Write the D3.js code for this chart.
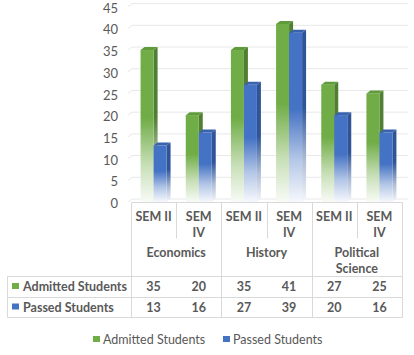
<!DOCTYPE html>
<html><head><meta charset="utf-8">
<script src="https://cdn.jsdelivr.net/npm/d3@7"></script>
<style>
html,body{margin:0;padding:0;background:#fff;}
svg{display:block;font-family:Lato,"Open Sans",sans-serif;}
</style></head>
<body><svg id="c" width="414" height="355"></svg>
<script>
// ---- data ----
const semesters = [["SEM II"],["SEM","IV"],["SEM II"],["SEM","IV"],["SEM II"],["SEM","IV"]];
const subjects = [["Economics"],["History"],["Political","Science"]];
const seriesNames = ["Admitted Students","Passed Students"];
const admitted = [35,20,35,41,27,25];
const passed = [13,16,27,39,20,16];
const yTicks = [0,5,10,15,20,25,30,35,40,45];
const colors = ["#70AD47","#4472C4"];
const sideColors = ["#507E32","#2F5597"];
const topColors = ["#5F9A3B","#3A63AE"];

const svg = d3.select("#c");
const textColor = "#595959", lineColor = "#D9D9D9";
const x0 = 131, x1 = 402, depthX = 4, depthY = 3;
const xCol = d3.scaleBand().domain(d3.range(6)).range([x0, x1]).padding(0);
const xSer = d3.scaleBand().domain([0,1]).range([0, 26]);
const y = d3.scaleLinear().domain([0,45]).range([202, 6.6]);

// gradients
const defs = svg.append("defs");
function grad(id, c){
  const g = defs.append("linearGradient").attr("id", id).attr("x1",0).attr("y1",0).attr("x2",0).attr("y2",1);
  g.append("stop").attr("offset",0).attr("stop-color",c);
  g.append("stop").attr("offset",0.45).attr("stop-color",c);
  g.append("stop").attr("offset",0.75).attr("stop-color",d3.interpolateRgb(c,"#fff")(0.6));
  g.append("stop").attr("offset",1).attr("stop-color",d3.interpolateRgb(c,"#fff")(0.95));
}
[0,1].forEach(i=>{grad("f"+i, colors[i]); grad("s"+i, sideColors[i]);});

// gridlines (back wall)
svg.append("g").selectAll("path").data(yTicks).join("path")
  .attr("d", v => `M${x0-3},${y(v)} L${x0+depthX-3},${y(v)-depthY} L${x1+6},${y(v)-depthY}`)
  .attr("fill","none").attr("stroke","#E8E8E8").attr("stroke-width",1);

// y axis labels
const yAxis = d3.axisLeft(y).tickValues(yTicks).tickSize(0).tickPadding(0);
const ga = svg.append("g").attr("transform",`translate(118,1.5)`).call(yAxis);
ga.select(".domain").remove();
ga.selectAll("text").attr("fill",textColor).style("font-size","13px").style("font-family","Lato,sans-serif");

// bars
const series = [admitted, passed];
series.forEach((vals, si) => {
  const g = svg.append("g");
  vals.forEach((v, ci) => {
    const w = xSer.bandwidth();
    const bx = xCol(ci) + xCol.bandwidth()/2 - 13 + xSer(si);
    const by = y(v), b0 = y(0);
    g.append("path").attr("d",`M${bx+w},${by} L${bx+w+depthX},${by-depthY} L${bx+w+depthX},${b0-depthY} L${bx+w},${b0}Z`)
      .attr("fill",`url(#s${si})`);
    g.append("rect").attr("x",bx).attr("y",by).attr("width",w).attr("height",b0-by).attr("fill",`url(#f${si})`);
    g.append("path").attr("d",`M${bx},${by} L${bx+depthX},${by-depthY} L${bx+w+depthX},${by-depthY} L${bx+w},${by}Z`)
      .attr("fill",topColors[si]);
  });
});

// data table
const tbl = svg.append("g").attr("stroke",lineColor).attr("stroke-width",1).attr("fill","none");
const tTop = 202.5, tMid = 238.5, tHead = 276.5, tRow = 297.5, tBot = 317.5, tLeft = 7.5;
tbl.append("line").attr("x1",x0+0.5).attr("x2",x1+0.5).attr("y1",tTop).attr("y2",tTop);
[tHead,tRow,tBot].forEach(yy => tbl.append("line").attr("x1",tLeft).attr("x2",x1+0.5).attr("y1",yy).attr("y2",yy));
tbl.append("line").attr("x1",tLeft).attr("x2",tLeft).attr("y1",tHead).attr("y2",tBot);
d3.range(7).forEach(i => {
  const xx = Math.round(i<6 ? xCol(i) : x1) + 0.5;
  const full = i % 2 === 0;
  tbl.append("line").attr("x1",xx).attr("x2",xx).attr("y1",tTop).attr("y2", full ? tBot : tMid);
});

const txt = svg.append("g").attr("fill",textColor).style("font-weight","bold").style("font-size","12.5px").attr("text-anchor","middle");
semesters.forEach((lines, i) => {
  lines.forEach((l, k) => txt.append("text").attr("x", xCol(i)+xCol.bandwidth()/2).attr("y", 220.5 + k*16.5).text(l));
});
subjects.forEach((lines, i) => {
  const cx = xCol(i*2) + xCol.bandwidth();
  lines.forEach((l, k) => txt.append("text").attr("x", cx).attr("y", 256.5 + k*16.5).text(l));
});
series.forEach((vals, si) => {
  const ry = si===0 ? 291 : 311.5;
  vals.forEach((v, ci) => txt.append("text").attr("x", xCol(ci)+xCol.bandwidth()/2).attr("y", ry).text(v));
  svg.append("rect").attr("x",12).attr("y",ry-8).attr("width",7).attr("height",6).attr("fill",colors[si]);
  txt.append("text").attr("x",23).attr("y",ry).attr("text-anchor","start").text(seriesNames[si]);
});

// legend
const leg = svg.append("g").style("font-size","12.5px").attr("fill",textColor);
const legX = [93, 223];
seriesNames.forEach((n, i) => {
  leg.append("rect").attr("x",legX[i]).attr("y",336).attr("width",7).attr("height",6).attr("fill",colors[i]);
  leg.append("text").attr("x",legX[i]+10).attr("y",343.5).text(n);
});
</script></body></html>
